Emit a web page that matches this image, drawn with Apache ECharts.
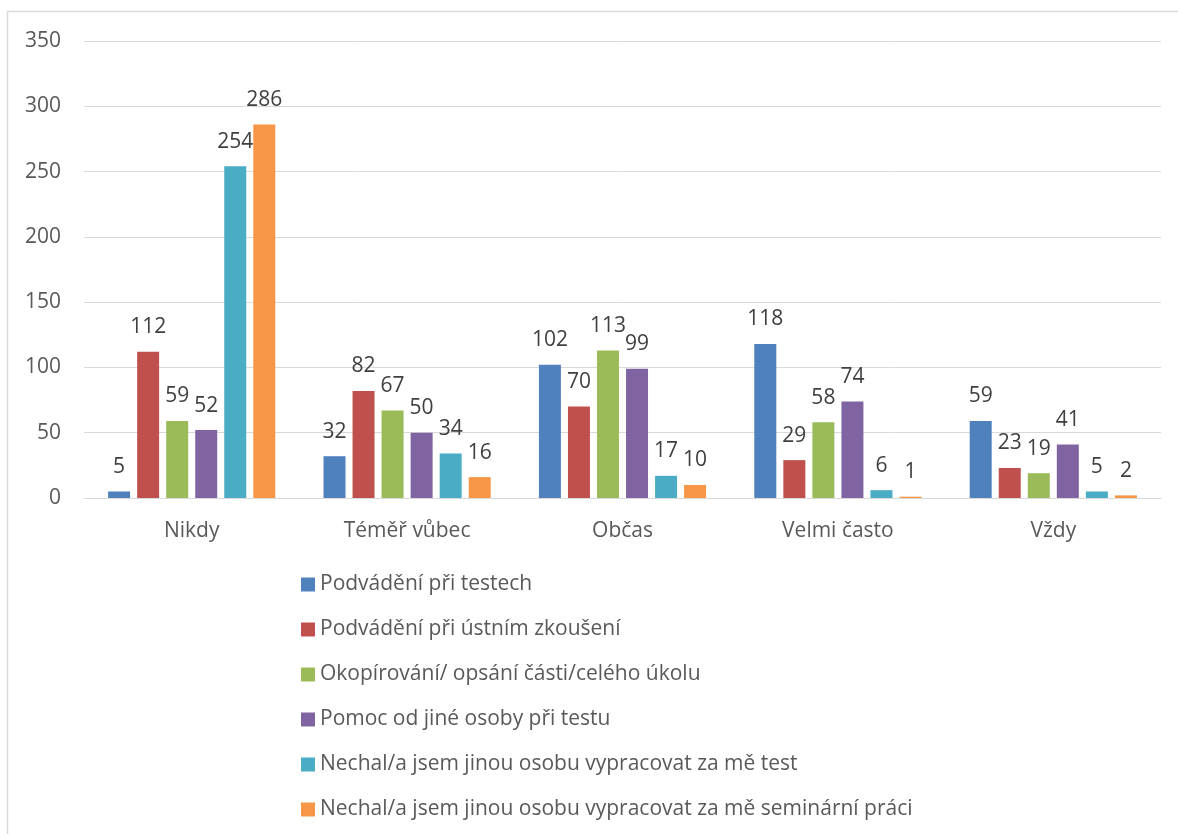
<!DOCTYPE html>
<html>
<head>
<meta charset="utf-8">
<script src="https://cdn.jsdelivr.net/npm/echarts@6/dist/echarts.min.js"></script>
<style>
  html, body { margin: 0; padding: 0; background: #fff; }
  #chart { width: 1178px; height: 834px; }
</style>
</head>
<body>
<div id="chart"></div>
<script>
const categories = ['Nikdy', 'Téměř vůbec', 'Občas', 'Velmi často', 'Vždy'];
const seriesNames = [
  'Podvádění při testech',
  'Podvádění při ústním zkoušení',
  'Okopírování/ opsání části/celého úkolu',
  'Pomoc od jiné osoby při testu',
  'Nechal/a jsem jinou osobu vypracovat za mě test',
  'Nechal/a jsem jinou osobu vypracovat za mě seminární práci'
];
const testy = [5, 32, 102, 118, 59];
const ustni = [112, 82, 70, 29, 23];
const ukol = [59, 67, 113, 58, 19];
const pomoc = [52, 50, 99, 74, 41];
const test = [254, 34, 17, 6, 5];
const seminarka = [286, 16, 10, 1, 2];
const yTicks = [0, 50, 100, 150, 200, 250, 300, 350];

const colors = ['#4F81BD', '#C0504D', '#9BBB59', '#8064A2', '#4BACC6', '#F79646'];
const values = [testy, ustni, ukol, pomoc, test, seminarka];
const fontFamily = '"Open Sans", "Noto Sans", sans-serif';

const chart = echarts.init(document.getElementById('chart'));
chart.setOption({
  animation: false,
  color: colors,
  textStyle: { fontFamily: fontFamily },
  graphic: [{
    type: 'rect',
    shape: { x: 7.5, y: 11.5, width: 1300, height: 1000 },
    style: { fill: 'none', stroke: '#d9d9d9', lineWidth: 1.5 },
    silent: true
  }],
  grid: { left: 84, right: 17, top: 41, bottom: 336 },
  legend: {
    orient: 'vertical',
    left: 296,
    top: 569,
    itemWidth: 14,
    itemHeight: 14,
    itemGap: 24,
    icon: 'rect',
    textStyle: { fontSize: 21, lineHeight: 21, color: '#595959', fontFamily: fontFamily },
    data: seriesNames
  },
  xAxis: {
    type: 'category',
    data: categories,
    axisLine: { lineStyle: { color: '#d9d9d9', width: 1 } },
    axisTick: { show: false },
    axisLabel: { fontSize: 21, color: '#595959', margin: 23 }
  },
  yAxis: {
    type: 'value',
    min: yTicks[0],
    max: yTicks[yTicks.length - 1],
    interval: 50,
    axisLine: { show: false },
    axisTick: { show: false },
    splitLine: { lineStyle: { color: '#d9d9d9', width: 1 } },
    axisLabel: { fontSize: 21, color: '#595959', margin: 23 }
  },
  series: values.map((v, i) => ({
    name: seriesNames[i],
    type: 'bar',
    data: v,
    barWidth: 22,
    barGap: '32%',
    label: {
      show: true,
      position: 'top',
      distance: 14,
      fontSize: 21,
      color: '#404040'
    }
  }))
});
</script>
</body>
</html>
